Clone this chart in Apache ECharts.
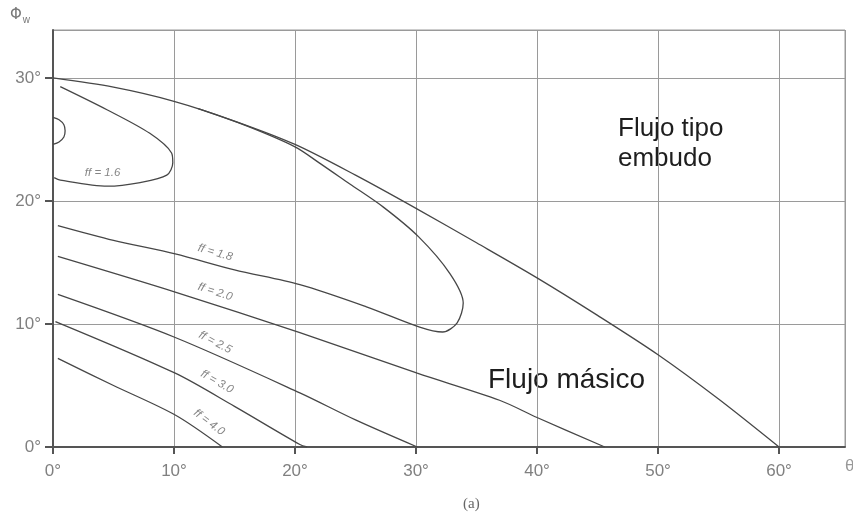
<!DOCTYPE html>
<html>
<head>
<meta charset="utf-8">
<script src="https://cdn.jsdelivr.net/npm/echarts@6/dist/echarts.min.js"></script>
<style>html,body{margin:0;padding:0;background:#fff;}#c{width:853px;height:515px;}</style>
</head>
<body>
<div id="c"></div>
<script>
// ---- data (degrees) ----
const xTicks = [0, 10, 20, 30, 40, 50, 60];
const yTicks = [0, 10, 20, 30];

const boundaryX = [0, 5, 10, 15, 20, 25, 30, 35, 40, 45, 50, 55, 60];
const boundaryY = [30, 29.25, 28.1, 26.5, 24.6, 22.1, 19.4, 16.6, 13.75, 10.7, 7.5, 3.9, 0];

const ff18X = [0.4, 5, 10.1, 15, 20.4, 25.9, 30.3, 32.2, 33.4, 33.9, 32.8, 30.2, 27.3, 24.5, 22, 20, 16, 12];
const ff18Y = [18.0, 16.8, 15.7, 14.4, 13.2, 11.4, 9.75, 9.35, 10.1, 11.7, 14.1, 17.1, 19.5, 21.4, 23.1, 24.4, 26.1, 27.5];

const ff20X = [0.4, 10.1, 20.4, 30.1, 36.9, 40, 45.6];
const ff20Y = [15.5, 12.6, 9.3, 6.0, 3.8, 2.4, 0];

const ff25X = [0.4, 10.1, 20.4, 25, 30.1];
const ff25Y = [12.4, 8.9, 4.4, 2.2, 0];

const ff30X = [0.2, 10.1, 15, 20.4, 21.0];
const ff30Y = [10.2, 6.0, 3.3, 0.2, 0];

const ff40X = [0.4, 5, 10.1, 14.0];
const ff40Y = [7.2, 5.0, 2.6, 0];

const loop16X = [0.6, 4.5, 8.0, 9.8, 9.9, 9.4, 7.2, 4.5, 0.6, 0.1];
const loop16Y = [29.3, 27.4, 25.5, 23.9, 23.1, 22.1, 21.5, 21.2, 21.7, 21.9];

const smallLoopX = [0, 0.5, 0.9, 1.0, 0.9, 0.5, 0];
const smallLoopY = [26.8, 26.6, 26.2, 25.7, 25.2, 24.8, 24.6];

const ffLabels = ['ff = 1.6', 'ff = 1.8', 'ff = 2.0', 'ff = 2.5', 'ff = 3.0', 'ff = 4.0'];
const ffLabelX = [4.1, 13.4, 13.4, 13.4, 13.55, 12.9];
const ffLabelY = [22.3, 15.8, 12.6, 8.5, 5.3, 2.0];

const regionTexts = ['Flujo tipo\nembudo', 'Flujo másico'];

// ---- build ----
const zip = (xs, ys) => xs.map((x, i) => [x, ys[i]]);
const labelRot = [0, -16, -18, -28, -30, -37];
const lineColor = '#474747';
const curve = (name, xs, ys) => ({
  type: 'line', name, data: zip(xs, ys), smooth: 0.3,
  symbol: 'none', lineStyle: { color: lineColor, width: 1.3 }, silent: true, z: 3
});

const chart = echarts.init(document.getElementById('c'), null, { renderer: 'canvas' });
chart.setOption({
  animation: false,
  backgroundColor: '#fff',
  grid: { left: 53, right: 8, top: 30, bottom: 68, show: true, borderColor: '#9a9a9a', borderWidth: 1 },
  xAxis: {
    type: 'value', min: 0, max: 65.45, interval: 10,
    axisLine: { show: true, onZero: false, lineStyle: { color: '#555', width: 2 } },
    axisTick: { show: true, length: 7, lineStyle: { color: '#555', width: 2 } },
    axisLabel: { showMaxLabel: false, margin: 16, color: '#808080', fontSize: 17, fontFamily: 'Liberation Sans',
      formatter: v => (xTicks.includes(v) ? v + '°' : '') },
    splitLine: { show: true, lineStyle: { color: '#9a9a9a', width: 1 } }
  },
  yAxis: {
    type: 'value', min: 0, max: 33.9, interval: 10,
    axisLine: { show: true, lineStyle: { color: '#555', width: 2 } },
    axisTick: { show: true, length: 8, lineStyle: { color: '#555', width: 2 } },
    axisLabel: { showMaxLabel: false, margin: 12, color: '#808080', fontSize: 17, fontFamily: 'Liberation Sans',
      formatter: v => (yTicks.includes(v) ? v + '°' : '') },
    splitLine: { show: true, lineStyle: { color: '#9a9a9a', width: 1 } }
  },
  series: [
    curve('boundary', boundaryX, boundaryY),
    curve('ff18', ff18X, ff18Y),
    curve('ff20', ff20X, ff20Y),
    curve('ff25', ff25X, ff25Y),
    curve('ff30', ff30X, ff30Y),
    curve('ff40', ff40X, ff40Y),
    curve('loop16', loop16X, loop16Y),
    curve('small', smallLoopX, smallLoopY),
    {
      type: 'scatter', symbolSize: 0, silent: true, z: 4,
      data: ffLabels.map((t, i) => ({
        name: t, value: [ffLabelX[i], ffLabelY[i]],
        label: { rotate: labelRot[i] }
      })),
      label: { show: true, position: 'inside', formatter: p => p.name, color: '#666',
        fontSize: 11.5, fontStyle: 'italic', fontFamily: 'Liberation Sans' }
    }
  ],
  graphic: [
    { type: 'text', left: 10, top: 8, style: {
        text: '{a|Φ}{b|w}',
        rich: { a: { fontSize: 15, fill: '#777', fontFamily: 'DejaVu Sans' },
                b: { fontSize: 10, fill: '#777', fontFamily: 'Liberation Sans', padding: [10, 0, 0, 1] } } } },
    { type: 'text', left: 845, top: 458, style: { text: 'θ', fontSize: 17, fill: '#999', fontFamily: 'Liberation Sans' } },
    { type: 'text', left: 618, top: 114, style: { text: regionTexts[0], fontSize: 26, lineHeight: 30,
        fill: '#1e1e1e', fontFamily: 'Liberation Sans' } },
    { type: 'text', left: 488, top: 364, style: { text: regionTexts[1], fontSize: 28, lineHeight: 32,
        fill: '#1e1e1e', fontFamily: 'Liberation Sans' } },
    { type: 'text', left: 463, top: 497, style: { text: '(a)', fontSize: 15, fill: '#666', fontFamily: 'Liberation Serif' } }
  ]
});
</script>
</body>
</html>
